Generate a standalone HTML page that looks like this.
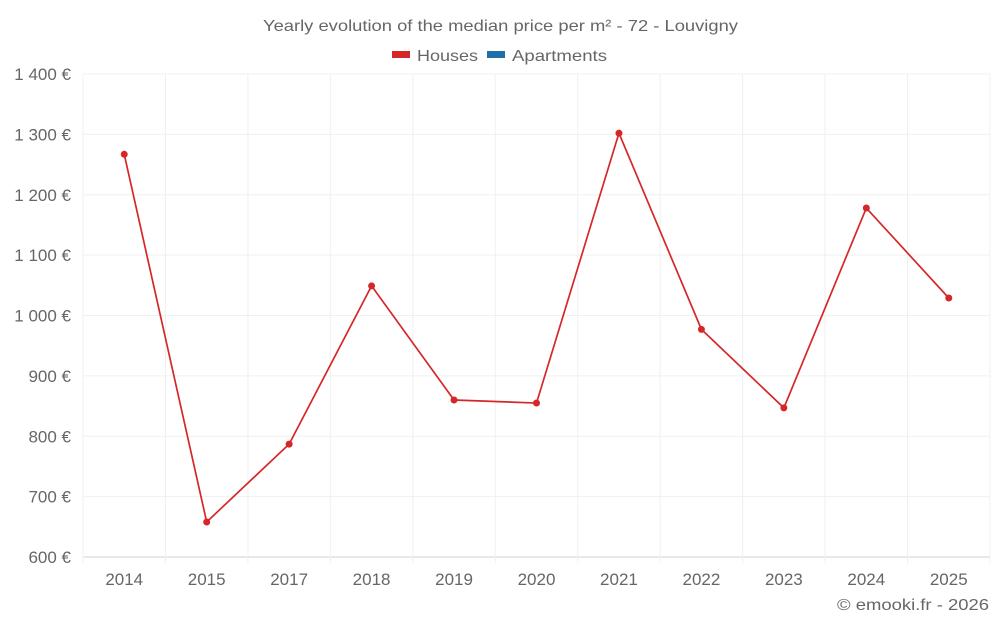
<!DOCTYPE html>
<html><head><meta charset="utf-8"><style>
body{margin:0;background:#fff;font-family:"Liberation Sans",sans-serif;}
svg text{font-family:"Liberation Sans",sans-serif;fill:#666;}
</style></head><body>
<svg id="chart" width="1000" height="625">
<text x="263" y="31" font-size="16" textLength="475" lengthAdjust="spacingAndGlyphs">Yearly evolution of the median price per m² - 72 - Louvigny</text>
<g><rect x="392" y="51" width="18" height="7" fill="#d62728"/><text x="417" y="61" font-size="16" textLength="61" lengthAdjust="spacingAndGlyphs">Houses</text></g>
<g><rect x="487" y="51" width="18" height="7" fill="#1f6fa8"/><text x="512" y="61" font-size="16" textLength="95" lengthAdjust="spacingAndGlyphs">Apartments</text></g>
<g id="grid"></g><g id="axes"></g><g id="series"></g>
<text x="837" y="610" font-size="16" textLength="152" lengthAdjust="spacingAndGlyphs">© emooki.fr - 2026</text>
</svg>
<script>
const categories=["2014","2015","2017","2018","2019","2020","2021","2022","2023","2024","2025"];
const houses=[1267,658,787,1049,860,855,1302,977,847,1178,1029];
const yTicks=[600,700,800,900,1000,1100,1200,1300,1400];
const L=83,R=990,T=74,B=557,yMin=600,yMax=1400;
const ns="http://www.w3.org/2000/svg";
const bw=(R-L)/categories.length;
const x=i=>L+bw*(i+0.5);
const y=v=>B-(v-yMin)/(yMax-yMin)*(B-T);
function mk(t,a,p){const e=document.createElementNS(ns,t);for(const k in a)e.setAttribute(k,a[k]);p.appendChild(e);return e;}
const g=document.getElementById('grid'),ax=document.getElementById('axes'),s=document.getElementById('series');
yTicks.forEach(v=>{
 const l=mk('line',{x1:L,x2:R,y1:y(v),y2:y(v),stroke:v===yMin?'#d0d0d0':'#f0f0f0'},g);
 
 
 const t=mk('text',{x:71,y:y(v)+6,'text-anchor':'end','font-size':17},ax);
 t.textContent=v.toLocaleString('fr-FR').replace(/\s/g,' ')+' €';
 
 
});
for(let i=0;i<=categories.length;i++){
 const l=mk('line',{x1:L+bw*i,x2:L+bw*i,y1:T,y2:B+6,stroke:'#f0f0f0'},g);
 
 
}
categories.forEach((c,i)=>{
 const t=mk('text',{x:x(i),y:585,'text-anchor':'middle','font-size':17},ax);
 t.textContent=c;
 
 
});
const pl=mk('polyline',{points:houses.map((v,i)=>x(i)+','+y(v)).join(' '),fill:'none',stroke:'#d62728','stroke-width':1.7},s);


houses.forEach((v,i)=>{
 const c=mk('circle',{cx:x(i),cy:y(v),r:3.5,fill:'#d62728'},s);
 
 
});
</script>
</body></html>
